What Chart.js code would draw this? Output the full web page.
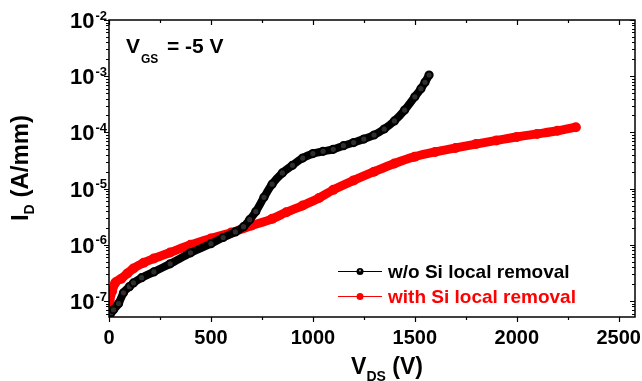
<!DOCTYPE html>
<html>
<head>
<meta charset="utf-8">
<script src="https://cdn.jsdelivr.net/npm/chart.js@4.4.0/dist/chart.umd.min.js"></script>
<style>
  html, body { margin: 0; padding: 0; background: #fff; }
  #wrap { width: 642px; height: 381px; position: relative; }
</style>
</head>
<body>
<div id="wrap"><canvas id="myChart"></canvas></div>
<script>
// w/o Si local removal (black)
var blackV = [3, 10, 22, 47, 71, 100, 120, 160, 220, 300, 400, 500, 560, 620, 660, 690, 720, 760, 800, 850, 900, 950, 1000, 1050, 1100, 1150, 1200, 1250, 1300, 1350, 1400, 1450, 1500, 1530, 1550, 1570];
var blackI = [5.5e-8, 6.2e-8, 7e-8, 9e-8, 1.4e-7, 1.8e-7, 2.1e-7, 2.6e-7, 3.3e-7, 4.6e-7, 7.2e-7, 1.05e-6, 1.35e-6, 1.7e-6, 2.1e-6, 2.8e-6, 3.9e-6, 7e-6, 1.2e-5, 1.9e-5, 2.6e-5, 3.5e-5, 4.2e-5, 4.6e-5, 5.0e-5, 5.8e-5, 6.6e-5, 7.6e-5, 9.0e-5, 1.15e-4, 1.6e-4, 2.5e-4, 4.3e-4, 6.0e-4, 7.8e-4, 1.05e-3];

// with Si local removal (red)
var redV = [3, 8, 15, 30, 60, 90, 120, 170, 220, 300, 400, 500, 600, 700, 800, 870, 950, 1030, 1100, 1200, 1300, 1400, 1500, 1600, 1700, 1800, 1900, 2000, 2100, 2200, 2290];
var redI = [8e-8, 1.3e-7, 1.5e-7, 2.1e-7, 2.5e-7, 3.1e-7, 3.8e-7, 4.8e-7, 5.7e-7, 7.3e-7, 1.0e-6, 1.3e-6, 1.65e-6, 2.2e-6, 2.9e-6, 3.8e-6, 5.0e-6, 6.8e-6, 9.5e-6, 1.4e-5, 2.0e-5, 2.8e-5, 3.7e-5, 4.5e-5, 5.3e-5, 6.2e-5, 7.2e-5, 8.3e-5, 9.4e-5, 1.07e-4, 1.24e-4];

var seriesNames = ['w/o Si local removal', 'with Si local removal'];
var xTicks = [0, 500, 1000, 1500, 2000, 2500];
var yTickExps = [-7, -6, -5, -4, -3, -2];

var FONT = '"Liberation Sans", Arial, sans-serif';

function toPoints(xs, ys) {
    var pts = [];
    for (var i = 0; i < xs.length; i++) pts.push({ x: xs[i], y: ys[i] });
    return pts;
}

function bold(size) { return 'bold ' + size + 'px ' + FONT; }

var decorPlugin = {
    id: 'decor',
    afterDraw: function(chart) {
        var ctx = chart.ctx;
        var a = chart.chartArea;
        var xs = chart.scales.x, ys = chart.scales.y;
        ctx.save();
        ctx.strokeStyle = '#000';
        ctx.fillStyle = '#000';

        // frame
        ctx.lineWidth = 1.5;
        ctx.strokeRect(a.left, a.top, a.right - a.left, a.bottom - a.top);

        // x ticks (bottom outward, top inward)
        ctx.lineWidth = 1.2;
        for (var v = 0; v <= 2580; v += 250) {
            var px = Math.round(xs.getPixelForValue(v)) + 0.5;
            var len = (v % 500 === 0) ? 5 : 3;
            ctx.beginPath();
            ctx.moveTo(px, a.bottom); ctx.lineTo(px, a.bottom + len);
            ctx.moveTo(px, a.top); ctx.lineTo(px, a.top + len);
            ctx.stroke();
        }
        // y ticks (left outward, right inward)
        for (var e = -8; e <= -2; e++) {
            for (var m = 1; m <= 9; m++) {
                var val = m * Math.pow(10, e);
                if (val < ys.min * 0.999 || val > ys.max * 1.001) continue;
                var py = Math.round(ys.getPixelForValue(val)) + 0.5;
                var l2 = (m === 1) ? 5 : 3;
                ctx.beginPath();
                ctx.moveTo(a.left, py); ctx.lineTo(a.left - l2, py);
                ctx.moveTo(a.right, py); ctx.lineTo(a.right - l2, py);
                ctx.stroke();
            }
        }

        // x tick labels
        ctx.font = bold(20);
        ctx.textAlign = 'center';
        ctx.textBaseline = 'alphabetic';
        xTicks.forEach(function(t) {
            ctx.fillText(String(t), xs.getPixelForValue(t), 344);
        });

        // y tick labels 10^n
        ctx.textAlign = 'left';
        yTickExps.forEach(function(ex) {
            var py = ys.getPixelForValue(Math.pow(10, ex));
            ctx.font = bold(13);
            var sup = String(ex);
            var sw = ctx.measureText(sup).width;
            ctx.font = bold(22);
            var bw = ctx.measureText('10').width;
            var right = a.left - 2;
            ctx.fillText('10', right - sw - 1 - bw, py + 8);
            ctx.font = bold(13);
            ctx.fillText(sup, right - sw, py - 0.5);
        });

        // x title: V_DS (V)
        ctx.font = bold(23);
        var w1 = ctx.measureText('V').width;
        ctx.font = bold(14);
        var w2 = ctx.measureText('DS').width;
        ctx.font = bold(23);
        var w3 = ctx.measureText(' (V)').width;
        var sx = 387 - (w1 + w2 + w3) / 2;
        ctx.fillText('V', sx, 374);
        ctx.font = bold(14);
        ctx.fillText('DS', sx + w1, 381);
        ctx.font = bold(23);
        ctx.fillText(' (V)', sx + w1 + w2, 374);

        // y title: I_D (A/mm), rotated
        ctx.save();
        ctx.translate(28, 168);
        ctx.rotate(-Math.PI / 2);
        ctx.font = bold(24);
        var t1 = ctx.measureText('I').width;
        ctx.font = bold(14);
        var t2 = ctx.measureText('D').width;
        ctx.font = bold(24);
        var t3 = ctx.measureText(' (A/mm)').width;
        var ty = -(t1 + t2 + t3) / 2;
        ctx.fillText('I', ty, 0);
        ctx.font = bold(14);
        ctx.fillText('D', ty + t1, 6);
        ctx.font = bold(24);
        ctx.fillText(' (A/mm)', ty + t1 + t2, 0);
        ctx.restore();

        // V_GS = -5 V annotation
        ctx.font = bold(21);
        ctx.fillText('V', 126, 53);
        var vw = ctx.measureText('V').width;
        ctx.font = bold(12);
        ctx.fillText('GS', 126 + vw + 1, 63);
        ctx.font = bold(21);
        ctx.fillText('= -5 V', 167, 53);

        // legend
        var rows = [
            { y: 271, color: '#000', text: seriesNames[0] },
            { y: 296, color: '#ff0000', text: seriesNames[1] }
        ];
        rows.forEach(function(r) {
            ctx.strokeStyle = r.color;
            ctx.lineWidth = 1.2;
            ctx.beginPath();
            ctx.moveTo(338, r.y + 0.5); ctx.lineTo(382, r.y + 0.5);
            ctx.stroke();
            ctx.beginPath();
            ctx.arc(360, r.y + 0.5, 3.5, 0, Math.PI * 2);
            ctx.fillStyle = r.color;
            ctx.fill();
            if (r.color === '#000') {
                ctx.beginPath();
                ctx.arc(360, r.y - 0.5, 1.1, 0, Math.PI * 2);
                ctx.fillStyle = '#999';
                ctx.fill();
            }
            ctx.fillStyle = r.color;
            ctx.font = bold(19);
            ctx.fillText(r.text, 388, r.y + 7);
        });

        ctx.restore();
    }
};

var ctx = document.getElementById('myChart').getContext('2d');
window.myChart = new Chart(ctx, {
    type: 'line',
    data: {
        datasets: [{
            label: seriesNames[0],
            data: toPoints(blackV, blackI),
            borderColor: '#000',
            borderWidth: 8,
            pointRadius: 3.6,
            pointBorderWidth: 2,
            pointBorderColor: '#000',
            pointBackgroundColor: '#2e2e2e',
            cubicInterpolationMode: 'monotone'
        }, {
            label: seriesNames[1],
            data: toPoints(redV, redI),
            borderColor: '#ff0000',
            borderWidth: 9,
            pointRadius: 5,
            pointBorderWidth: 0,
            pointBackgroundColor: '#ff0000',
            cubicInterpolationMode: 'monotone'
        }]
    },
    options: {
        responsive: true,
        maintainAspectRatio: false,
        animation: false,
        layout: { padding: { left: 109, top: 20, right: 7, bottom: 64 } },
        plugins: {
            legend: { display: false },
            tooltip: { enabled: false }
        },
        scales: {
            x: { type: 'linear', min: 0, max: 2580, display: false },
            y: { type: 'logarithmic', min: 5.2e-8, max: 1e-2, display: false }
        }
    },
    plugins: [decorPlugin]
});
</script>
</body>
</html>
